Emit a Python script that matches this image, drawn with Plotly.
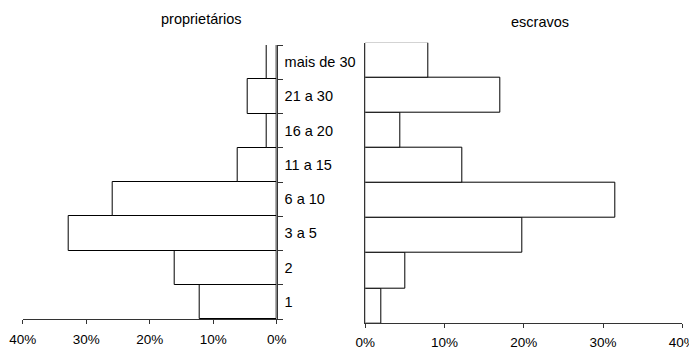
import plotly.graph_objects as go

categories = ["1", "2", "3 a 5", "6 a 10", "11 a 15", "16 a 20", "21 a 30", "mais de 30"]
proprietarios = [12.1, 16.0, 32.7, 25.8, 6.2, 1.5, 4.6, 1.5]
escravos = [2.0, 5.1, 19.85, 31.5, 12.3, 4.4, 17.0, 7.9]
x_ticks = [0, 10, 20, 30, 40]
x_tick_text = ["0%", "10%", "20%", "30%", "40%"]

OFF = 8  # default page body margin
W, H = 697, 352
FONT = "Liberation Sans, Arial, sans-serif"

fig = go.Figure()
bar_style = dict(orientation="h", marker=dict(color="white", line=dict(color="black", width=1)),
                 showlegend=False, hoverinfo="x+y")
fig.add_trace(go.Bar(x=proprietarios, y=categories, xaxis="x", yaxis="y", **bar_style))
fig.add_trace(go.Bar(x=escravos, y=categories, xaxis="x2", yaxis="y2", **bar_style))

def px_dom_x(a, b):
    return [(a - OFF) / W, (b - OFF) / W]

def px_dom_y(top, bottom):
    return [1 - (bottom - OFF) / H, 1 - (top - OFF) / H]

axis_common = dict(showgrid=False, zeroline=False, showline=True, linecolor="#333", linewidth=1,
                   tickcolor="#333", automargin=False, ticklabeloverflow="allow")
xfont = dict(family=FONT, size=13.5, color="black")
yfont = dict(family=FONT, size=14.5, color="black")

fig.update_layout(
    width=W, height=H,
    margin=dict(l=0, r=0, t=0, b=0),
    paper_bgcolor="white", plot_bgcolor="white",
    bargap=0,
    font=dict(family=FONT, color="black"),
    xaxis=dict(domain=px_dom_x(22.7, 276.7), range=[40, 0], tickvals=x_ticks, ticktext=x_tick_text,
               ticks="outside", ticklen=4, anchor="y", ticklabelstandoff=4, tickfont=xfont, **axis_common),
    yaxis=dict(domain=px_dom_y(45, 319), type="category", categoryorder="array", categoryarray=categories,
               side="right", anchor="x", ticks="outside", ticklen=5, tickson="boundaries", range=[-0.5, 7.5],
               ticklabelstandoff=4, tickfont=yfont, **axis_common),
    xaxis2=dict(domain=px_dom_x(365.3, 682.3), range=[0, 40], tickvals=x_ticks, ticktext=x_tick_text,
                ticks="outside", ticklen=4, anchor="y2", ticklabelstandoff=2, tickfont=xfont, **axis_common),
    yaxis2=dict(domain=px_dom_y(42.7, 323.3), type="category", categoryorder="array", categoryarray=categories,
                anchor="x2", showticklabels=False, range=[-0.5, 7.5], ticks="", **axis_common),
    annotations=[
        dict(text="proprietários", x=(201 - OFF) / W, y=1 - (19 - OFF) / H, xref="paper", yref="paper",
             showarrow=False, font=dict(family=FONT, size=14.5, color="black"), xanchor="center", yanchor="middle"),
        dict(text="escravos", x=(540 - OFF) / W, y=1 - (22 - OFF) / H, xref="paper", yref="paper",
             showarrow=False, font=dict(family=FONT, size=14.5, color="black"), xanchor="center", yanchor="middle"),
    ],
)

fig.write_html("out.html")
